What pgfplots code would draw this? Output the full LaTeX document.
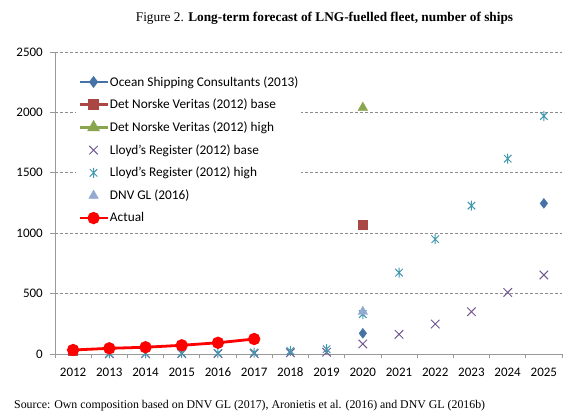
\documentclass[border=0pt]{standalone}
\usepackage{pgfplots}
\pgfplotsset{compat=1.18}
\usepackage{fontspec}
\setmainfont{Carlito}
\newfontfamily\timesfont{Liberation Serif}
\definecolor{osc}{HTML}{4572A7}
\definecolor{dnvb}{HTML}{AA4643}
\definecolor{dnvh}{HTML}{89A54E}
\definecolor{lrb}{HTML}{71588F}
\definecolor{lrh}{HTML}{4198AF}
\definecolor{dnvgl}{HTML}{93A9CF}
\definecolor{axgray}{HTML}{999999}
\definecolor{gridgray}{HTML}{8C8C8C}
\pgfdeclareplotmark{xstar}{%
  \pgfpathmoveto{\pgfqpoint{-.75\pgfplotmarksize}{-.75\pgfplotmarksize}}%
  \pgfpathlineto{\pgfqpoint{.75\pgfplotmarksize}{.75\pgfplotmarksize}}%
  \pgfpathmoveto{\pgfqpoint{-.75\pgfplotmarksize}{.75\pgfplotmarksize}}%
  \pgfpathlineto{\pgfqpoint{.75\pgfplotmarksize}{-.75\pgfplotmarksize}}%
  \pgfpathmoveto{\pgfqpoint{0pt}{-\pgfplotmarksize}}%
  \pgfpathlineto{\pgfqpoint{0pt}{\pgfplotmarksize}}%
  \pgfusepathqstroke}
\begin{document}
\begin{tikzpicture}
\begin{axis}[
  at={(0,0)}, anchor=south west,
  scale only axis, width=507pt, height=302pt,
  xmin=2011.5, xmax=2025.5, ymin=0, ymax=2500,
  axis x line*=bottom, axis y line*=left,
  axis line style={axgray, line width=0.8pt, -},
  xtick={2012,...,2025},
  minor xtick={2011.5,2012.5,...,2025.5},
  ytick={0,500,...,2500},
  tick align=outside,
  major tick length=5pt, minor tick length=4pt,
  x tick style={draw=none},
  minor x tick style={draw=axgray, line width=0.8pt},
  y tick style={draw=axgray, line width=0.8pt},
  ymajorgrids,
  major grid style={gridgray, dash pattern=on 3pt off 2pt, line width=0.6pt},
  /pgf/number format/assume math mode=true,
  /pgf/number format/1000 sep={},
  tick label style={font=\fontsize{13}{15}\selectfont, text=black},
  yticklabel style={inner xsep=0pt, xshift=-7pt},
  xticklabel style={inner ysep=0pt, yshift=-9pt, text height=8.6pt, text depth=0pt},
  clip=false,
  legend cell align=left,
  legend style={draw=none, fill=white, at={(0.0414,0.93)}, anchor=north west,
    font=\fontsize{13.3}{15}\selectfont, row sep=9.5pt, inner xsep=2pt, inner ysep=2pt,
    nodes={inner sep=1pt}},
  legend image code/.code={\draw[mark repeat=2,mark phase=2,#1] plot coordinates {(0pt,0pt)(14pt,0pt)(28pt,0pt)};},
]
% Ocean Shipping Consultants (2013)
\addplot[forget plot, only marks, mark=diamond*, mark size=5pt, color=osc] coordinates {(2020,171) (2025,1247)};
% DNV 2012 base
\addplot[forget plot, only marks, mark=square*, mark size=4.5pt, color=dnvb] coordinates {(2012,30) (2020,1068)};
% DNV 2012 high
\addplot[forget plot, only marks, mark=triangle*, mark size=5.5pt, color=dnvh] coordinates {(2012,30) (2020,2040)};
% Lloyd's base
\addplot[forget plot, only marks, mark=x, mark size=6pt, color=lrb, line width=1pt] coordinates {
 (2013,2) (2014,2) (2015,2) (2016,3) (2017,4) (2018,10) (2019,15) (2020,83) (2021,163) (2022,248) (2023,350) (2024,510) (2025,654)};
% Lloyd's high
\addplot[forget plot, only marks, mark=xstar, mark size=5pt, color=lrh, line width=1pt] coordinates {
 (2013,5) (2014,6) (2015,7) (2016,8) (2017,12) (2018,25) (2019,40) (2020,330) (2021,673) (2022,950) (2023,1228) (2024,1617) (2025,1970)};
% DNV GL 2016
\addplot[forget plot, only marks, mark=triangle*, mark size=5.5pt, color=dnvgl] coordinates {(2020,350)};
% Actual
\addplot[forget plot, color=red, line width=2.8pt, mark=*, mark size=4.7pt] coordinates {
 (2012,33) (2013,47) (2014,56) (2015,72) (2016,93) (2017,124)};

\addlegendimage{color=osc, line width=2.5pt, mark=diamond*, mark size=4pt}
\addlegendentry{Ocean Shipping Consultants (2013)}
\addlegendimage{color=dnvb, line width=2.5pt, mark=square*, mark size=4pt}
\addlegendentry{Det Norske Veritas (2012) base}
\addlegendimage{color=dnvh, line width=2.5pt, mark=triangle*, mark size=5pt}
\addlegendentry{Det Norske Veritas (2012) high}
\addlegendimage{only marks, color=lrb, line width=1pt, mark=x, mark size=6pt}
\addlegendentry{Lloyd’s Register (2012) base}
\addlegendimage{only marks, color=lrh, line width=1pt, mark=xstar, mark size=5pt}
\addlegendentry{Lloyd’s Register (2012) high}
\addlegendimage{only marks, color=dnvgl, mark=triangle*, mark size=5.5pt}
\addlegendentry{DNV GL (2016)}
\addlegendimage{color=red, line width=2.8pt, mark=*, mark size=4.7pt}
\addlegendentry{Actual}
\end{axis}
\node[font=\timesfont\fontsize{13.3}{16}\selectfont] at (269.5pt,336pt) {Figure 2. \textbf{Long-term forecast of LNG-fuelled fleet, number of ships}};
\node[font=\timesfont\fontsize{11.85}{14}\selectfont, anchor=west, inner sep=0pt] at (-41pt,-52pt) {Source: Own composition based on DNV GL (2017), Aronietis et al. (2016) and DNV GL (2016b)};
\pgfresetboundingbox
\path[use as bounding box] (-55pt,-63pt) rectangle (516pt,354pt);
\end{tikzpicture}
\end{document}
